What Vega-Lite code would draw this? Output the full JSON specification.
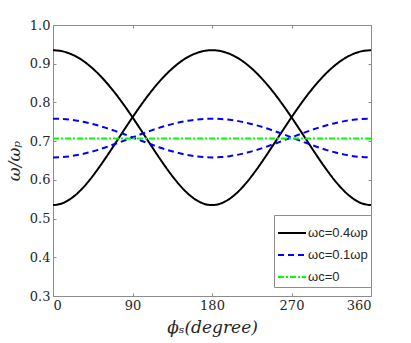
{
  "$schema": "https://vega.github.io/schema/vega-lite/v6.json",
  "width": 318,
  "height": 271,
  "autosize": {"type": "none"},
  "padding": {"left": 53, "top": 25, "right": 40, "bottom": 47},
  "background": "white",
  "config": {
    "view": {"stroke": "#8c8c8c", "strokeWidth": 1},
    "axis": {
      "labelFont": "DejaVu Serif",
      "labelFontSize": 13,
      "labelColor": "#262626",
      "titleFont": "DejaVu Serif",
      "titleFontStyle": "italic",
      "titleFontWeight": "normal",
      "titleFontSize": 17,
      "titleColor": "#262626",
      "domain": false,
      "grid": false,
      "tickColor": "#8c8c8c",
      "tickSize": -3,
      "labelPadding": 6
    }
  },
  "datasets": {
    "curves": [
      {"phi": 0, "w": 0.9349, "s": "ωc=0.4ωp", "b": "a"},
      {"phi": 10, "w": 0.9325, "s": "ωc=0.4ωp", "b": "a"},
      {"phi": 20, "w": 0.9253, "s": "ωc=0.4ωp", "b": "a"},
      {"phi": 30, "w": 0.9136, "s": "ωc=0.4ωp", "b": "a"},
      {"phi": 40, "w": 0.8973, "s": "ωc=0.4ωp", "b": "a"},
      {"phi": 50, "w": 0.8769, "s": "ωc=0.4ωp", "b": "a"},
      {"phi": 60, "w": 0.8526, "s": "ωc=0.4ωp", "b": "a"},
      {"phi": 70, "w": 0.8250, "s": "ωc=0.4ωp", "b": "a"},
      {"phi": 80, "w": 0.7944, "s": "ωc=0.4ωp", "b": "a"},
      {"phi": 90, "w": 0.7616, "s": "ωc=0.4ωp", "b": "a"},
      {"phi": 100, "w": 0.7273, "s": "ωc=0.4ωp", "b": "a"},
      {"phi": 110, "w": 0.6924, "s": "ωc=0.4ωp", "b": "a"},
      {"phi": 120, "w": 0.6580, "s": "ωc=0.4ωp", "b": "a"},
      {"phi": 130, "w": 0.6253, "s": "ωc=0.4ωp", "b": "a"},
      {"phi": 140, "w": 0.5956, "s": "ωc=0.4ωp", "b": "a"},
      {"phi": 150, "w": 0.5704, "s": "ωc=0.4ωp", "b": "a"},
      {"phi": 160, "w": 0.5511, "s": "ωc=0.4ωp", "b": "a"},
      {"phi": 170, "w": 0.5390, "s": "ωc=0.4ωp", "b": "a"},
      {"phi": 180, "w": 0.5348, "s": "ωc=0.4ωp", "b": "a"},
      {"phi": 190, "w": 0.5390, "s": "ωc=0.4ωp", "b": "a"},
      {"phi": 200, "w": 0.5511, "s": "ωc=0.4ωp", "b": "a"},
      {"phi": 210, "w": 0.5704, "s": "ωc=0.4ωp", "b": "a"},
      {"phi": 220, "w": 0.5956, "s": "ωc=0.4ωp", "b": "a"},
      {"phi": 230, "w": 0.6253, "s": "ωc=0.4ωp", "b": "a"},
      {"phi": 240, "w": 0.6580, "s": "ωc=0.4ωp", "b": "a"},
      {"phi": 250, "w": 0.6924, "s": "ωc=0.4ωp", "b": "a"},
      {"phi": 260, "w": 0.7273, "s": "ωc=0.4ωp", "b": "a"},
      {"phi": 270, "w": 0.7616, "s": "ωc=0.4ωp", "b": "a"},
      {"phi": 280, "w": 0.7944, "s": "ωc=0.4ωp", "b": "a"},
      {"phi": 290, "w": 0.8250, "s": "ωc=0.4ωp", "b": "a"},
      {"phi": 300, "w": 0.8526, "s": "ωc=0.4ωp", "b": "a"},
      {"phi": 310, "w": 0.8769, "s": "ωc=0.4ωp", "b": "a"},
      {"phi": 320, "w": 0.8973, "s": "ωc=0.4ωp", "b": "a"},
      {"phi": 330, "w": 0.9136, "s": "ωc=0.4ωp", "b": "a"},
      {"phi": 340, "w": 0.9253, "s": "ωc=0.4ωp", "b": "a"},
      {"phi": 350, "w": 0.9325, "s": "ωc=0.4ωp", "b": "a"},
      {"phi": 360, "w": 0.9349, "s": "ωc=0.4ωp", "b": "a"},
      {"phi": 0, "w": 0.5348, "s": "ωc=0.4ωp", "b": "b"},
      {"phi": 10, "w": 0.5390, "s": "ωc=0.4ωp", "b": "b"},
      {"phi": 20, "w": 0.5511, "s": "ωc=0.4ωp", "b": "b"},
      {"phi": 30, "w": 0.5704, "s": "ωc=0.4ωp", "b": "b"},
      {"phi": 40, "w": 0.5956, "s": "ωc=0.4ωp", "b": "b"},
      {"phi": 50, "w": 0.6253, "s": "ωc=0.4ωp", "b": "b"},
      {"phi": 60, "w": 0.6580, "s": "ωc=0.4ωp", "b": "b"},
      {"phi": 70, "w": 0.6924, "s": "ωc=0.4ωp", "b": "b"},
      {"phi": 80, "w": 0.7273, "s": "ωc=0.4ωp", "b": "b"},
      {"phi": 90, "w": 0.7616, "s": "ωc=0.4ωp", "b": "b"},
      {"phi": 100, "w": 0.7944, "s": "ωc=0.4ωp", "b": "b"},
      {"phi": 110, "w": 0.8250, "s": "ωc=0.4ωp", "b": "b"},
      {"phi": 120, "w": 0.8526, "s": "ωc=0.4ωp", "b": "b"},
      {"phi": 130, "w": 0.8769, "s": "ωc=0.4ωp", "b": "b"},
      {"phi": 140, "w": 0.8973, "s": "ωc=0.4ωp", "b": "b"},
      {"phi": 150, "w": 0.9136, "s": "ωc=0.4ωp", "b": "b"},
      {"phi": 160, "w": 0.9253, "s": "ωc=0.4ωp", "b": "b"},
      {"phi": 170, "w": 0.9325, "s": "ωc=0.4ωp", "b": "b"},
      {"phi": 180, "w": 0.9349, "s": "ωc=0.4ωp", "b": "b"},
      {"phi": 190, "w": 0.9325, "s": "ωc=0.4ωp", "b": "b"},
      {"phi": 200, "w": 0.9253, "s": "ωc=0.4ωp", "b": "b"},
      {"phi": 210, "w": 0.9136, "s": "ωc=0.4ωp", "b": "b"},
      {"phi": 220, "w": 0.8973, "s": "ωc=0.4ωp", "b": "b"},
      {"phi": 230, "w": 0.8769, "s": "ωc=0.4ωp", "b": "b"},
      {"phi": 240, "w": 0.8526, "s": "ωc=0.4ωp", "b": "b"},
      {"phi": 250, "w": 0.8250, "s": "ωc=0.4ωp", "b": "b"},
      {"phi": 260, "w": 0.7944, "s": "ωc=0.4ωp", "b": "b"},
      {"phi": 270, "w": 0.7616, "s": "ωc=0.4ωp", "b": "b"},
      {"phi": 280, "w": 0.7273, "s": "ωc=0.4ωp", "b": "b"},
      {"phi": 290, "w": 0.6924, "s": "ωc=0.4ωp", "b": "b"},
      {"phi": 300, "w": 0.6580, "s": "ωc=0.4ωp", "b": "b"},
      {"phi": 310, "w": 0.6253, "s": "ωc=0.4ωp", "b": "b"},
      {"phi": 320, "w": 0.5956, "s": "ωc=0.4ωp", "b": "b"},
      {"phi": 330, "w": 0.5704, "s": "ωc=0.4ωp", "b": "b"},
      {"phi": 340, "w": 0.5511, "s": "ωc=0.4ωp", "b": "b"},
      {"phi": 350, "w": 0.5390, "s": "ωc=0.4ωp", "b": "b"},
      {"phi": 360, "w": 0.5348, "s": "ωc=0.4ωp", "b": "b"},
      {"phi": 0, "w": 0.7580, "s": "ωc=0.1ωp", "b": "c"},
      {"phi": 10, "w": 0.7573, "s": "ωc=0.1ωp", "b": "c"},
      {"phi": 20, "w": 0.7552, "s": "ωc=0.1ωp", "b": "c"},
      {"phi": 30, "w": 0.7517, "s": "ωc=0.1ωp", "b": "c"},
      {"phi": 40, "w": 0.7470, "s": "ωc=0.1ωp", "b": "c"},
      {"phi": 50, "w": 0.7411, "s": "ωc=0.1ωp", "b": "c"},
      {"phi": 60, "w": 0.7343, "s": "ωc=0.1ωp", "b": "c"},
      {"phi": 70, "w": 0.7266, "s": "ωc=0.1ωp", "b": "c"},
      {"phi": 80, "w": 0.7184, "s": "ωc=0.1ωp", "b": "c"},
      {"phi": 90, "w": 0.7098, "s": "ωc=0.1ωp", "b": "c"},
      {"phi": 100, "w": 0.7010, "s": "ωc=0.1ωp", "b": "c"},
      {"phi": 110, "w": 0.6925, "s": "ωc=0.1ωp", "b": "c"},
      {"phi": 120, "w": 0.6844, "s": "ωc=0.1ωp", "b": "c"},
      {"phi": 130, "w": 0.6769, "s": "ωc=0.1ωp", "b": "c"},
      {"phi": 140, "w": 0.6705, "s": "ωc=0.1ωp", "b": "c"},
      {"phi": 150, "w": 0.6652, "s": "ωc=0.1ωp", "b": "c"},
      {"phi": 160, "w": 0.6612, "s": "ωc=0.1ωp", "b": "c"},
      {"phi": 170, "w": 0.6588, "s": "ωc=0.1ωp", "b": "c"},
      {"phi": 180, "w": 0.6580, "s": "ωc=0.1ωp", "b": "c"},
      {"phi": 190, "w": 0.6588, "s": "ωc=0.1ωp", "b": "c"},
      {"phi": 200, "w": 0.6612, "s": "ωc=0.1ωp", "b": "c"},
      {"phi": 210, "w": 0.6652, "s": "ωc=0.1ωp", "b": "c"},
      {"phi": 220, "w": 0.6705, "s": "ωc=0.1ωp", "b": "c"},
      {"phi": 230, "w": 0.6769, "s": "ωc=0.1ωp", "b": "c"},
      {"phi": 240, "w": 0.6844, "s": "ωc=0.1ωp", "b": "c"},
      {"phi": 250, "w": 0.6925, "s": "ωc=0.1ωp", "b": "c"},
      {"phi": 260, "w": 0.7010, "s": "ωc=0.1ωp", "b": "c"},
      {"phi": 270, "w": 0.7098, "s": "ωc=0.1ωp", "b": "c"},
      {"phi": 280, "w": 0.7184, "s": "ωc=0.1ωp", "b": "c"},
      {"phi": 290, "w": 0.7266, "s": "ωc=0.1ωp", "b": "c"},
      {"phi": 300, "w": 0.7343, "s": "ωc=0.1ωp", "b": "c"},
      {"phi": 310, "w": 0.7411, "s": "ωc=0.1ωp", "b": "c"},
      {"phi": 320, "w": 0.7470, "s": "ωc=0.1ωp", "b": "c"},
      {"phi": 330, "w": 0.7517, "s": "ωc=0.1ωp", "b": "c"},
      {"phi": 340, "w": 0.7552, "s": "ωc=0.1ωp", "b": "c"},
      {"phi": 350, "w": 0.7573, "s": "ωc=0.1ωp", "b": "c"},
      {"phi": 360, "w": 0.7580, "s": "ωc=0.1ωp", "b": "c"},
      {"phi": 0, "w": 0.6580, "s": "ωc=0.1ωp", "b": "d"},
      {"phi": 10, "w": 0.6588, "s": "ωc=0.1ωp", "b": "d"},
      {"phi": 20, "w": 0.6612, "s": "ωc=0.1ωp", "b": "d"},
      {"phi": 30, "w": 0.6652, "s": "ωc=0.1ωp", "b": "d"},
      {"phi": 40, "w": 0.6705, "s": "ωc=0.1ωp", "b": "d"},
      {"phi": 50, "w": 0.6769, "s": "ωc=0.1ωp", "b": "d"},
      {"phi": 60, "w": 0.6844, "s": "ωc=0.1ωp", "b": "d"},
      {"phi": 70, "w": 0.6925, "s": "ωc=0.1ωp", "b": "d"},
      {"phi": 80, "w": 0.7010, "s": "ωc=0.1ωp", "b": "d"},
      {"phi": 90, "w": 0.7098, "s": "ωc=0.1ωp", "b": "d"},
      {"phi": 100, "w": 0.7184, "s": "ωc=0.1ωp", "b": "d"},
      {"phi": 110, "w": 0.7266, "s": "ωc=0.1ωp", "b": "d"},
      {"phi": 120, "w": 0.7343, "s": "ωc=0.1ωp", "b": "d"},
      {"phi": 130, "w": 0.7411, "s": "ωc=0.1ωp", "b": "d"},
      {"phi": 140, "w": 0.7470, "s": "ωc=0.1ωp", "b": "d"},
      {"phi": 150, "w": 0.7517, "s": "ωc=0.1ωp", "b": "d"},
      {"phi": 160, "w": 0.7552, "s": "ωc=0.1ωp", "b": "d"},
      {"phi": 170, "w": 0.7573, "s": "ωc=0.1ωp", "b": "d"},
      {"phi": 180, "w": 0.7580, "s": "ωc=0.1ωp", "b": "d"},
      {"phi": 190, "w": 0.7573, "s": "ωc=0.1ωp", "b": "d"},
      {"phi": 200, "w": 0.7552, "s": "ωc=0.1ωp", "b": "d"},
      {"phi": 210, "w": 0.7517, "s": "ωc=0.1ωp", "b": "d"},
      {"phi": 220, "w": 0.7470, "s": "ωc=0.1ωp", "b": "d"},
      {"phi": 230, "w": 0.7411, "s": "ωc=0.1ωp", "b": "d"},
      {"phi": 240, "w": 0.7343, "s": "ωc=0.1ωp", "b": "d"},
      {"phi": 250, "w": 0.7266, "s": "ωc=0.1ωp", "b": "d"},
      {"phi": 260, "w": 0.7184, "s": "ωc=0.1ωp", "b": "d"},
      {"phi": 270, "w": 0.7098, "s": "ωc=0.1ωp", "b": "d"},
      {"phi": 280, "w": 0.7010, "s": "ωc=0.1ωp", "b": "d"},
      {"phi": 290, "w": 0.6925, "s": "ωc=0.1ωp", "b": "d"},
      {"phi": 300, "w": 0.6844, "s": "ωc=0.1ωp", "b": "d"},
      {"phi": 310, "w": 0.6769, "s": "ωc=0.1ωp", "b": "d"},
      {"phi": 320, "w": 0.6705, "s": "ωc=0.1ωp", "b": "d"},
      {"phi": 330, "w": 0.6652, "s": "ωc=0.1ωp", "b": "d"},
      {"phi": 340, "w": 0.6612, "s": "ωc=0.1ωp", "b": "d"},
      {"phi": 350, "w": 0.6588, "s": "ωc=0.1ωp", "b": "d"},
      {"phi": 360, "w": 0.6580, "s": "ωc=0.1ωp", "b": "d"},
      {"phi": 0, "w": 0.7071, "s": "ωc=0", "b": "e"},
      {"phi": 360, "w": 0.7071, "s": "ωc=0", "b": "e"}
    ]
  },
  "data": {"name": "curves"},
  "layer": [
    {
      "mark": {"type": "line", "strokeWidth": 2, "interpolate": "monotone", "clip": true},
      "encoding": {
        "x": {
          "field": "phi",
          "type": "quantitative",
          "scale": {"domain": [0, 360], "nice": false},
          "axis": {"values": [0, 90, 180, 270, 360], "title": "ϕₛ(degree)", "titlePadding": 7}
        },
        "y": {
          "field": "w",
          "type": "quantitative",
          "scale": {"domain": [0.3, 1.0], "nice": false, "zero": false},
          "axis": {"values": [0.3, 0.4, 0.5, 0.6, 0.7, 0.8, 0.9, 1.0], "format": ".1f", "title": "ω/ωₚ", "titlePadding": 6}
        },
        "detail": {"field": "b"},
        "color": {
          "field": "s",
          "type": "nominal",
          "scale": {"domain": ["ωc=0.4ωp", "ωc=0.1ωp", "ωc=0"], "range": ["#000000", "#0000ff", "#00ff00"]},
          "legend": {
            "title": null,
            "orient": "none",
            "legendX": 221,
            "legendY": 190,
            "direction": "vertical",
            "fillColor": "white",
            "strokeColor": "#8c8c8c",
            "padding": 3,
            "rowPadding": 0,
            "symbolType": "stroke",
            "symbolSize": 784,
            "symbolStrokeWidth": 2,
            "labelFont": "Liberation Sans",
            "labelFontSize": 13,
            "labelColor": "#262626",
            "labelOffset": 1,
            "labelLimit": 200
          }
        },
        "strokeDash": {
          "field": "s",
          "type": "nominal",
          "scale": {"domain": ["ωc=0.4ωp", "ωc=0.1ωp", "ωc=0"], "range": [[1, 0], [6, 4], [6, 2, 2, 2]]},
          "legend": null
        }
      }
    },
    {
      "mark": {"type": "line", "opacity": 0},
      "encoding": {
        "x": {
          "field": "phi",
          "type": "quantitative",
          "axis": {"orient": "top", "values": [0, 90, 180, 270, 360], "labels": false, "title": null}
        },
        "y": {
          "field": "w",
          "type": "quantitative",
          "axis": {"orient": "right", "values": [0.3, 0.4, 0.5, 0.6, 0.7, 0.8, 0.9, 1.0], "labels": false, "title": null}
        },
        "detail": {"field": "b"}
      }
    }
  ],
  "resolve": {"axis": {"x": "independent", "y": "independent"}}
}
